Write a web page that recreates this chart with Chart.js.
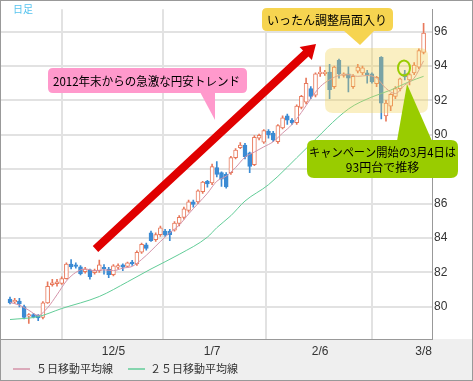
<!DOCTYPE html>
<html><head><meta charset="utf-8">
<script src="https://cdn.jsdelivr.net/npm/chart.js@4/dist/chart.umd.min.js"></script>
<style>html,body{margin:0;padding:0;background:#fff;}canvas{display:block;}</style>
</head><body>
<canvas id="c" width="473" height="381"></canvas>
<script>
// ---- data (USD/JPY daily candles, index = trading day) ----
const dayIndex = Array.from({length: 89}, (_, i) => i);
const opens  = [80.45,80.28,80.34,80.02,79.45,79.55,79.50,79.38,80.23,81.28,81.35,81.36,81.64,82.49,82.44,82.32,82.04,82.15,81.98,82.10,82.30,82.20,81.87,82.30,82.44,82.35,82.60,82.49,83.17,83.60,84.30,83.90,84.20,84.40,84.40,84.45,84.85,85.20,85.60,86.10,86.10,86.70,87.30,87.20,88.10,87.80,87.70,87.80,88.67,89.25,89.40,88.95,88.27,89.80,89.58,90.20,90.10,89.60,90.40,91.10,90.85,90.70,91.60,91.90,92.69,92.30,93.55,93.55,93.65,92.80,94.33,93.45,93.55,92.80,93.70,93.60,93.60,93.54,92.98,94.50,91.10,91.67,92.24,92.69,93.54,93.20,93.60,93.94,94.79];
const highs  = [80.57,80.50,80.50,80.10,79.60,79.62,79.55,80.30,81.45,81.60,81.60,81.75,82.55,82.75,82.55,82.40,82.30,82.20,82.20,82.72,82.45,82.30,82.45,82.50,82.50,82.60,82.70,83.25,83.70,83.70,84.40,84.30,84.70,84.50,84.50,84.95,85.30,85.80,86.20,86.20,86.80,87.30,87.35,88.30,88.45,87.85,87.80,88.75,89.20,89.55,89.50,89.00,89.95,90.05,90.30,90.30,90.20,90.60,91.10,91.20,90.95,91.75,92.30,93.30,92.80,93.60,93.95,93.75,94.10,94.00,94.40,93.60,93.95,93.50,94.10,94.00,93.75,93.60,93.40,94.55,92.00,92.40,92.80,93.30,93.75,93.60,94.20,95.00,96.49];
const lows   = [80.17,80.20,80.00,79.30,79.04,79.35,79.20,79.30,80.20,81.20,81.20,81.30,81.60,82.20,82.25,81.85,81.95,81.60,81.90,82.00,81.90,81.70,81.80,82.20,82.10,82.30,82.40,82.40,83.10,83.30,83.80,83.80,84.10,84.10,83.85,84.40,84.70,85.10,85.50,85.80,86.00,86.60,86.95,87.10,87.55,87.00,86.90,87.70,88.60,89.20,88.60,87.80,88.20,89.70,89.50,89.80,89.60,89.50,90.35,90.60,90.60,90.60,91.50,91.80,92.10,92.20,93.40,93.45,92.10,92.70,93.30,93.35,92.50,92.70,93.60,93.50,93.00,93.00,92.80,90.93,90.80,91.40,92.10,92.55,93.20,92.90,93.50,93.85,94.70];
const closes = [80.23,80.38,80.17,79.38,79.55,79.40,79.35,80.23,81.19,81.40,81.45,81.64,82.49,82.32,82.35,81.93,82.20,81.75,82.10,82.44,82.20,81.87,82.38,82.40,82.30,82.55,82.50,83.17,83.63,83.40,83.85,84.20,84.59,84.20,84.20,84.87,85.20,85.70,86.10,85.95,86.74,87.25,87.15,88.16,87.70,87.42,86.97,88.67,89.12,89.40,88.73,88.16,89.86,89.97,90.25,90.00,89.70,90.54,90.99,90.85,90.70,91.67,92.24,93.00,92.24,93.54,93.65,93.65,92.63,93.94,93.54,93.55,93.30,93.40,93.94,93.90,93.45,93.08,93.35,91.84,91.84,92.35,92.69,93.26,93.37,93.50,94.05,94.90,95.92];

const ma5Idx  = [0,2,4,6,8,10,12,14,16,18,20,22,24,26,28,30,32,34,36,38,40,42,44,46,48,50,52,54,56,58,60,62,64,66,68,70,72,74,76,78,80,82,84,86,88];
const ma5Val  = [80.25,80.1,79.8,79.5,79.95,80.7,81.5,82.0,82.2,82.1,82.15,82.1,82.25,82.35,82.75,83.25,83.8,84.3,84.75,85.4,86.0,86.6,87.3,87.6,88.1,88.7,89.0,89.3,89.6,90.1,90.6,91.3,92.1,92.8,93.2,93.45,93.5,93.4,93.45,93.3,92.7,92.4,92.9,93.3,94.3];
const ma25Idx = [0,6,11,19,25,30,36,42,44,47,50,55,63,72,77,81,85,88];
const ma25Val = [79.26,79.43,79.9,80.6,81.45,82.2,83.05,84.05,84.6,85.3,86.15,87.1,89.2,91.5,92.2,92.6,93.1,93.4];

const xTickIdx    = [0, 22, 43, 66, 88];
const xTickLabels = ['', '12/5', '1/7', '2/6', '3/8'];
const yTickValues = [80, 82, 84, 86, 88, 90, 92, 94, 96];
const seriesNames = ['５日移動平均線', '２５日移動平均線'];
const periodLabel = '日足';
const note1 = '2012年末からの急激な円安トレンド';
const note2 = 'いったん調整局面入り';
const note3a = 'キャンペーン開始の3月4日は';
const note3b = '93円台で推移';

// ---- styles ----
const UP = '#e8795c', DOWN = '#3b8bd4';
const PINK = '#d593a9', GREEN = '#62cd98';
const JP = '"Noto Sans CJK JP", "Noto Sans", sans-serif';
const LAT = '"Liberation Sans", Arial, sans-serif';

const isUp = dayIndex.map((d, i) => closes[i] >= opens[i]);

function rr(ctx, x, y, w, h, r) {
  ctx.beginPath();
  ctx.moveTo(x + r, y);
  ctx.lineTo(x + w - r, y); ctx.quadraticCurveTo(x + w, y, x + w, y + r);
  ctx.lineTo(x + w, y + h - r); ctx.quadraticCurveTo(x + w, y + h, x + w - r, y + h);
  ctx.lineTo(x + r, y + h); ctx.quadraticCurveTo(x, y + h, x, y + h - r);
  ctx.lineTo(x, y + r); ctx.quadraticCurveTo(x, y, x + r, y);
  ctx.closePath();
}

const bgPlugin = {
  id: 'bg',
  beforeDraw(chart) {
    const ctx = chart.ctx;
    ctx.save();
    ctx.fillStyle = '#efefef';
    ctx.fillRect(0, 0, 473, 381);
    ctx.fillStyle = '#ffffff';
    ctx.fillRect(1, 1, 471, chart.chartArea.bottom - 1);
    ctx.restore();
  }
};

const overlayPlugin = {
  id: 'overlay',
  afterDraw(chart) {
    const ctx = chart.ctx;
    ctx.save();
    // consolidation zone
    ctx.fillStyle = 'rgba(240,210,80,0.35)';
    rr(ctx, 325, 48, 103, 65, 8); ctx.fill();

    // red arrow
    const sx = 95.5, sy = 249, tx = 316, ty = 44;
    const ang = Math.atan2(ty - sy, tx - sx);
    const headLen = 14, headHalf = 9, shaftHalf = 4;
    const bx = tx - headLen * Math.cos(ang), by = ty - headLen * Math.sin(ang);
    const px = -Math.sin(ang), py = Math.cos(ang);
    ctx.fillStyle = '#e00000';
    ctx.beginPath();
    ctx.moveTo(sx + px * shaftHalf, sy + py * shaftHalf);
    ctx.lineTo(bx + px * shaftHalf, by + py * shaftHalf);
    ctx.lineTo(bx + px * headHalf, by + py * headHalf);
    ctx.lineTo(tx, ty);
    ctx.lineTo(bx - px * headHalf, by - py * headHalf);
    ctx.lineTo(bx - px * shaftHalf, by - py * shaftHalf);
    ctx.lineTo(sx - px * shaftHalf, sy - py * shaftHalf);
    ctx.closePath();
    ctx.fill();

    // pink callout
    ctx.fillStyle = '#ff99cc';
    rr(ctx, 48, 68, 199, 25, 5); ctx.fill();
    ctx.beginPath(); ctx.moveTo(200, 92); ctx.lineTo(215, 92); ctx.lineTo(215, 120); ctx.closePath(); ctx.fill();
    ctx.fillStyle = '#000';
    ctx.font = '12px ' + JP;
    ctx.textBaseline = 'middle'; ctx.textAlign = 'left';
    ctx.fillText(note1, 53, 81, 187);

    // yellow callout
    ctx.fillStyle = '#f6d450';
    rr(ctx, 262, 8, 131, 23, 5); ctx.fill();
    ctx.beginPath(); ctx.moveTo(343, 30); ctx.lineTo(375, 30); ctx.lineTo(360, 45); ctx.closePath(); ctx.fill();
    ctx.fillStyle = '#000';
    ctx.fillText(note2, 267, 20, 122);

    // green circle
    ctx.strokeStyle = '#99cc00'; ctx.lineWidth = 2;
    ctx.beginPath(); ctx.ellipse(404, 68, 6, 7.5, 0, 0, Math.PI * 2); ctx.stroke();

    // green callout
    ctx.fillStyle = '#99cc00';
    rr(ctx, 307, 140, 151, 38, 7); ctx.fill();
    ctx.beginPath(); ctx.moveTo(397, 141); ctx.lineTo(432, 141); ctx.lineTo(407, 84); ctx.closePath(); ctx.fill();
    ctx.fillStyle = '#000';
    ctx.textAlign = 'center';
    ctx.fillText(note3a, 382.5, 152, 147);
    ctx.fillText(note3b, 382.5, 167);

    // period label
    ctx.textAlign = 'left';
    ctx.fillStyle = '#55c3ee';
    ctx.font = '10px ' + JP;
    ctx.fillText(periodLabel, 13, 9);

    // legend
    const ly = 369;
    ctx.font = '11px ' + JP;
    ctx.fillStyle = '#333';
    ctx.lineWidth = 1.5;
    ctx.strokeStyle = PINK;
    ctx.beginPath(); ctx.moveTo(13, ly); ctx.lineTo(30, ly); ctx.stroke();
    ctx.fillText(seriesNames[0], 36, ly);
    ctx.strokeStyle = GREEN;
    ctx.beginPath(); ctx.moveTo(128, ly); ctx.lineTo(145, ly); ctx.stroke();
    ctx.fillText(seriesNames[1], 150, ly);

    // frame
    ctx.strokeStyle = '#999'; ctx.lineWidth = 1;
    ctx.strokeRect(0.5, 0.5, 472, 380);
    ctx.restore();
  }
};

new Chart(document.getElementById('c'), {
  type: 'bar',
  data: {
    datasets: [
      {
        type: 'line', label: seriesNames[0], order: 0,
        data: ma5Idx.map((x, i) => ({x, y: ma5Val[i]})),
        borderColor: PINK, borderWidth: 1, pointRadius: 0, cubicInterpolationMode: 'monotone'
      },
      {
        type: 'line', label: seriesNames[1], order: 0,
        data: ma25Idx.map((x, i) => ({x, y: ma25Val[i]})),
        borderColor: GREEN, borderWidth: 1, pointRadius: 0, cubicInterpolationMode: 'monotone'
      },
      {
        label: 'body', order: 1, grouped: false, barThickness: 4,
        data: dayIndex.map((x, i) => ({x, y: [opens[i], closes[i]]})),
        backgroundColor: isUp.map(u => u ? '#ffffff' : DOWN),
        borderColor: isUp.map(u => u ? UP : DOWN),
        borderWidth: 1, borderSkipped: false
      },
      {
        label: 'wick', order: 2, grouped: false, barThickness: 1,
        data: dayIndex.map((x, i) => ({x, y: [lows[i], highs[i]]})),
        backgroundColor: isUp.map(u => u ? UP : DOWN),
        borderWidth: 0
      }
    ]
  },
  options: {
    responsive: false, animation: false, events: [],
    layout: {padding: {left: 1, top: 1, right: 1, bottom: 22}},
    plugins: {legend: {display: false}, tooltip: {enabled: false}},
    scales: {
      x: {
        type: 'linear', position: 'bottom', min: -1.915, max: 89.79, offset: false,
        afterBuildTicks: s => { s.ticks = xTickIdx.map(v => ({value: v})); },
        afterFit: s => { s.height = 20; },
        grid: {color: '#e2e2e2', lineWidth: 2, drawTicks: false},
        border: {color: '#999', width: 1},
        ticks: {
          autoSkip: false, maxRotation: 0, padding: 5, color: '#333',
          font: {family: LAT, size: 12},
          callback: (v, i) => xTickLabels[xTickIdx.indexOf(v)]
        }
      },
      y: {
        position: 'right', min: 78.128, max: 97.305,
        afterBuildTicks: s => { s.ticks = yTickValues.map(v => ({value: v})); },
        afterFit: s => { s.width = 40; },
        grid: {color: '#e2e2e2', lineWidth: 2, drawTicks: false},
        border: {color: '#999', width: 1},
        ticks: {padding: 2, color: '#333', font: {family: LAT, size: 12}}
      }
    }
  },
  plugins: [bgPlugin, overlayPlugin]
});
</script>
</body></html>
